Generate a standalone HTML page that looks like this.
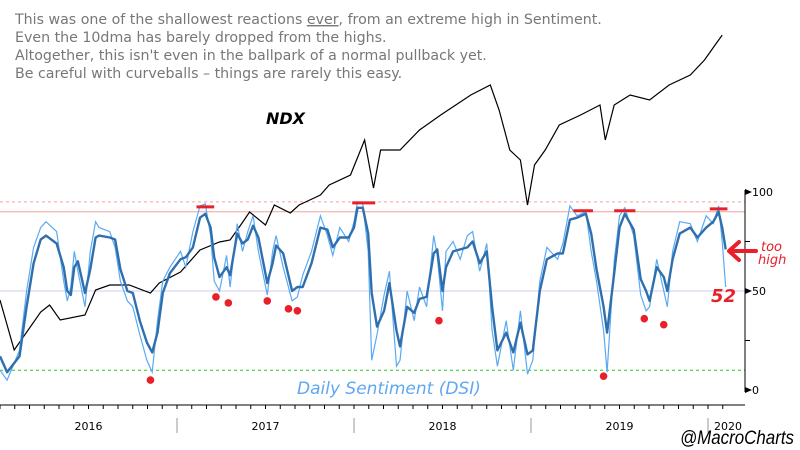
<!DOCTYPE html>
<html><head><meta charset="utf-8">
<style>
html,body{margin:0;padding:0;background:#fff;}
#wrap{position:relative;width:800px;height:450px;overflow:hidden;}
svg text{font-family:"DejaVu Sans","Liberation Sans",sans-serif;}
</style></head>
<body>
<div id="wrap">
<svg id="chart" width="800" height="450" viewBox="0 0 800 450">
  <g id="notes" fill="#777" font-size="14.2">
    <text x="15" y="24">This was one of the shallowest reactions <tspan text-decoration="underline">ever</tspan>, from an extreme high in Sentiment.</text>
    <text x="15" y="42">Even the 10dma has barely dropped from the highs.</text>
    <text x="15" y="60">Altogether, this isn't even in the ballpark of a normal pullback yet.</text>
    <text x="15" y="78">Be careful with curveballs – things are rarely this easy.</text>
  </g>
  <text x="266" y="124" font-size="16" font-weight="bold" font-style="italic" fill="#000">NDX</text>
  <g id="refs"></g>
  <g id="xaxis"></g>
  <g id="yaxis"></g>
  <g id="series"></g>
  <g id="marks"></g>
  <text x="297" y="394" font-size="17" font-style="italic" fill="#5fa8f0">Daily Sentiment (DSI)</text>
  <text x="711" y="302" font-size="18" font-style="italic" font-weight="bold" fill="#e8202a">52</text>
  <text x="761" y="251" font-size="13" font-style="italic" fill="#e8202a">too</text>
  <text x="758" y="264" font-size="13" font-style="italic" fill="#e8202a">high</text>
  <g stroke="#e8202a" stroke-width="4" fill="none" stroke-linecap="round" stroke-linejoin="round">
    <line x1="730" y1="251" x2="756" y2="251"/>
    <polyline points="739,242 729,251 739,260"/>
  </g>
  <text x="680" y="444" font-size="19" fill="#000" font-style="italic" style="font-family:'Liberation Sans',sans-serif" textLength="114" lengthAdjust="spacingAndGlyphs">@MacroCharts</text>
</svg>
</div>
<script>
const dsiDates = [2016.00,2016.04,2016.11,2016.15,2016.19,2016.23,2016.26,2016.32,2016.36,2016.38,2016.40,2016.42,2016.44,2016.48,2016.51,2016.54,2016.56,2016.62,2016.65,2016.68,2016.72,2016.75,2016.79,2016.83,2016.86,2016.89,2016.92,2016.96,2017.02,2017.05,2017.09,2017.13,2017.16,2017.19,2017.21,2017.24,2017.28,2017.30,2017.34,2017.37,2017.40,2017.43,2017.46,2017.51,2017.54,2017.56,2017.60,2017.65,2017.68,2017.71,2017.76,2017.81,2017.85,2017.88,2017.92,2017.97,2018.00,2018.02,2018.05,2018.08,2018.10,2018.13,2018.17,2018.20,2018.24,2018.26,2018.30,2018.34,2018.37,2018.41,2018.45,2018.47,2018.50,2018.52,2018.56,2018.60,2018.64,2018.67,2018.71,2018.75,2018.78,2018.81,2018.86,2018.90,2018.94,2018.98,2019.01,2019.05,2019.09,2019.15,2019.18,2019.22,2019.26,2019.31,2019.34,2019.37,2019.41,2019.43,2019.47,2019.50,2019.53,2019.58,2019.62,2019.65,2019.67,2019.71,2019.75,2019.77,2019.80,2019.84,2019.90,2019.94,2019.99,2020.03,2020.06,2020.08,2020.10];
const dsiSmooth = [17,9,17,42,64,76,78,74,62,50,48,62,65,49,61,77,78,77,76,61,50,49,35,24,19,29,49,59,66,67,72,87,89,82,67,57,62,58,79,74,76,83,77,54,64,73,69,50,52,52,64,82,81,72,77,77,82,92,92,79,49,32,40,54,30,22,42,39,46,47,69,71,50,62,70,71,72,75,64,70,42,20,29,19,34,18,20,50,66,69,69,86,87,89,79,61,42,29,59,82,89,81,56,50,45,62,57,50,66,79,82,77,82,85,90,82,71];
const dsiRaw = [10,5,20,50,72,82,85,80,55,45,52,70,60,42,70,85,82,80,72,55,45,42,28,15,9,35,55,62,70,62,80,93,94,78,55,50,68,52,84,70,80,88,70,48,70,78,62,45,47,58,70,88,78,68,82,75,85,95,94,70,15,28,48,60,12,15,50,35,52,42,78,68,40,70,75,66,78,80,60,74,30,12,35,10,40,8,15,55,72,66,74,93,88,90,70,55,30,9,65,88,92,78,48,40,42,66,50,42,70,85,84,75,88,84,93,75,52];
const ndxDates = [2016.00,2016.08,2016.23,2016.28,2016.34,2016.48,2016.54,2016.62,2016.73,2016.85,2016.90,2017.02,2017.13,2017.24,2017.30,2017.36,2017.41,2017.50,2017.55,2017.64,2017.69,2017.75,2017.81,2017.86,2017.98,2018.06,2018.11,2018.15,2018.26,2018.37,2018.49,2018.66,2018.77,2018.82,2018.88,2018.94,2018.98,2019.02,2019.08,2019.16,2019.28,2019.39,2019.42,2019.47,2019.56,2019.67,2019.78,2019.90,2019.98,2020.04,2020.08];
const ndxValues = [4741,3900,4540,4657,4405,4489,4910,4994,4994,4859,5028,5213,5583,5718,5751,6004,6223,6004,6340,6206,6340,6425,6509,6677,6845,7434,6626,7266,7266,7603,7855,8192,8360,7939,7266,7098,6340,7014,7266,7687,7855,8023,7434,8023,8192,8108,8360,8528,8781,9033,9200];
const lowDates = [2016.85,2017.22,2017.29,2017.51,2017.63,2017.68,2018.48,2019.41,2019.64,2019.75];
const lowValues = [5,47,44,45,41,40,35,7,36,33];
const highStart = [2017.11,2017.99,2019.24,2019.47,2020.01];
const highEnd = [2017.21,2018.12,2019.35,2019.59,2020.11];
const highValues = [92.5,94.5,90.5,90.5,91.5];
const yearLabels = ['2016','2017','2018','2019','2020'];
const yTicks = [0,25,50,75,100];
const yLabels = ['0','','50','','100'];

const NS='http://www.w3.org/2000/svg';
const X0=2016, PXY=177, AXR=745;
const xs = t => (t - X0) * PXY;
const ys = v => 390 - v * 1.98;
const yn = v => 350 - (v - 3900) / 16.83;
function mk(tag, attrs, parent){const e=document.createElementNS(NS,tag);for(const k in attrs)e.setAttribute(k,attrs[k]);parent.appendChild(e);return e;}
const refs=document.getElementById('refs'), xa=document.getElementById('xaxis'), ya=document.getElementById('yaxis'), ser=document.getElementById('series'), marks=document.getElementById('marks');

let l;
l=mk('line',{x1:0,x2:AXR,y1:ys(95),y2:ys(95),stroke:'#f6a0a0','stroke-dasharray':'3,3','stroke-width':1},refs);


l=mk('line',{x1:0,x2:AXR,y1:ys(90),y2:ys(90),stroke:'#f6a0a0','stroke-width':1},refs);


l=mk('line',{x1:0,x2:AXR,y1:ys(50),y2:ys(50),stroke:'#ccccee','stroke-width':1},refs);


l=mk('line',{x1:0,x2:AXR,y1:ys(10),y2:ys(10),stroke:'#22cc22','stroke-dasharray':'3,3','stroke-width':1},refs);



l=mk('line',{x1:0,x2:AXR,y1:405,y2:405,stroke:'#000','stroke-width':1},xa);


for(let m=0;m<=12*4+1;m++){
  const x=xs(X0+m/12);
  if(x>AXR)break;
  const t=mk('line',{x1:x,x2:x,y1:405,y2:409,stroke:'#000','stroke-width':1},xa);
  
  
}
yearLabels.forEach((yl,i)=>{
  const t0=X0+i;
  if(i>0){
    const s=mk('line',{x1:xs(t0),x2:xs(t0),y1:418,y2:433,stroke:'#999','stroke-width':1},xa);
    
    
  }
  const cx = i<4 ? xs(t0+0.5) : xs(t0)+20;
  const tx=mk('text',{x:cx,y:430,'text-anchor':'middle','font-size':11,fill:'#000'},xa);
  tx.textContent=yl;
  
  
});
l=mk('line',{x1:AXR,x2:AXR,y1:ys(100)-2,y2:ys(0)+2,stroke:'#000','stroke-width':1},ya);


yTicks.forEach((v,i)=>{
  const y=ys(v);
  if(yLabels[i]){
    const p=mk('polygon',{points:`${AXR},${y-3} ${AXR+7},${y} ${AXR},${y+3}`,fill:'#000'},ya);
    
    
    const tx=mk('text',{x:AXR+7,y:y+4,'font-size':11,fill:'#000'},ya);
    tx.textContent=yLabels[i];
    
    
  } else {
    const t=mk('line',{x1:AXR,x2:AXR+5,y1:y,y2:y,stroke:'#000'},ya);
    
    
  }
});
const ptsNdx=ndxDates.map((d,i)=>xs(d).toFixed(1)+','+yn(ndxValues[i]).toFixed(1)).join(' ');
l=mk('polyline',{points:ptsNdx,fill:'none',stroke:'#000','stroke-width':1.2},ser);


const ptsRaw=dsiDates.map((d,i)=>xs(d).toFixed(1)+','+ys(dsiRaw[i]).toFixed(1)).join(' ');
l=mk('polyline',{points:ptsRaw,fill:'none',stroke:'#5aaaf2','stroke-width':1.2},ser);


const ptsS=dsiDates.map((d,i)=>xs(d).toFixed(1)+','+ys(dsiSmooth[i]).toFixed(1)).join(' ');
l=mk('polyline',{points:ptsS,fill:'none',stroke:'#2f6fae','stroke-width':2.4,'stroke-linejoin':'round'},ser);


lowDates.forEach((d,i)=>{
  const c=mk('circle',{cx:xs(d),cy:ys(lowValues[i]),r:3.8,fill:'#e8202a'},marks);
  
  
});
highStart.forEach((d,i)=>{
  const r=mk('line',{x1:xs(d),x2:xs(highEnd[i]),y1:ys(highValues[i]),y2:ys(highValues[i]),stroke:'#e8202a','stroke-width':3},marks);
  
  
});
</script>
</body></html>
